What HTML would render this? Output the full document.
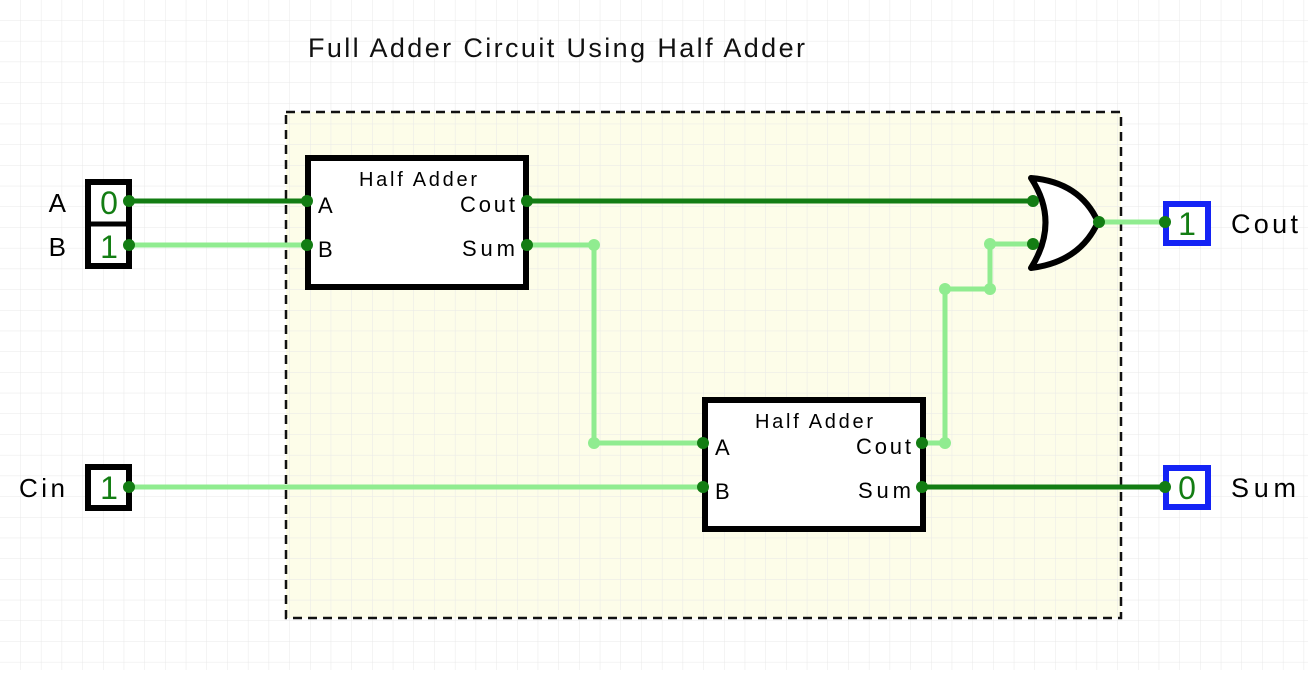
<!DOCTYPE html>
<html><head><style>
body{margin:0;width:1308px;height:670px;overflow:hidden;background:#fff;font-family:"Liberation Sans",sans-serif}
</style></head><body>
<svg width="1308" height="670" xmlns="http://www.w3.org/2000/svg">
<defs>
<pattern id="g" width="20.7" height="20.7" patternUnits="userSpaceOnUse">
<path d="M20.7 0V20.7H0" fill="none" stroke="#e8e8e8" stroke-width="1"/>
</pattern>
</defs>
<rect x="286" y="112" width="835" height="506" fill="#fdfde9"/>
<rect width="1308" height="670" fill="url(#g)"/>
<rect x="286" y="112" width="835" height="506" fill="none" stroke="#111" stroke-width="2.5" stroke-dasharray="9,6"/>
<text x="308" y="57" font-size="27" fill="#111" textLength="497">Full Adder Circuit Using Half Adder</text>

<g stroke-width="5" fill="none" stroke-linejoin="round">
<path d="M128 201H307" stroke="#137d13"/>
<path d="M128 245H307" stroke="#90ec90"/>
<path d="M527 245H594V443H703" stroke="#90ec90"/>
<path d="M128 487H703" stroke="#90ec90"/>
<path d="M921 443H945V289H990V244H1032" stroke="#90ec90"/>
<path d="M527 201H1032" stroke="#137d13"/>
<path d="M1098 222H1165" stroke="#90ec90"/>
<path d="M921 487H1165" stroke="#137d13"/>
</g>

<rect x="308" y="158" width="218" height="129" fill="#fff" stroke="#000" stroke-width="6"/>
<text x="359" y="186" font-size="20" textLength="118">Half Adder</text>
<text x="318" y="213" font-size="22">A</text>
<text x="318" y="257" font-size="22">B</text>
<text x="460" y="212" font-size="22" textLength="55">Cout</text>
<text x="462" y="256" font-size="22" textLength="53">Sum</text>

<rect x="705" y="400" width="218" height="129" fill="#fff" stroke="#000" stroke-width="6"/>
<text x="755" y="428" font-size="20" textLength="118">Half Adder</text>
<text x="715" y="455" font-size="22">A</text>
<text x="715" y="499" font-size="22">B</text>
<text x="856" y="454" font-size="22" textLength="55">Cout</text>
<text x="858" y="498" font-size="22" textLength="53">Sum</text>

<path d="M1031 178Q1060 222 1031 268Q1080 262 1098 222Q1080 182 1031 178Z" fill="#fff" stroke="#000" stroke-width="6" stroke-linejoin="round"/>

<rect x="88" y="182" width="41" height="84" fill="#fff" stroke="#000" stroke-width="6"/>
<path d="M87 224H130" stroke="#000" stroke-width="5"/>
<text x="109" y="214" font-size="32" fill="#137d13" text-anchor="middle">0</text>
<text x="109" y="258" font-size="32" fill="#137d13" text-anchor="middle">1</text>
<text x="66" y="212" font-size="26" text-anchor="end">A</text>
<text x="66" y="256" font-size="26" text-anchor="end">B</text>

<rect x="88" y="467" width="41" height="41" fill="#fff" stroke="#000" stroke-width="6"/>
<text x="109" y="499" font-size="32" fill="#137d13" text-anchor="middle">1</text>
<text x="19" y="497" font-size="26" textLength="46">Cin</text>

<rect x="1166" y="204" width="42" height="39" fill="#fff" stroke="#1423f5" stroke-width="6"/>
<text x="1187" y="235" font-size="32" fill="#137d13" text-anchor="middle">1</text>
<text x="1231" y="233" font-size="27" textLength="67">Cout</text>
<rect x="1166" y="468" width="42" height="39" fill="#fff" stroke="#1423f5" stroke-width="6"/>
<text x="1187" y="499" font-size="32" fill="#137d13" text-anchor="middle">0</text>
<text x="1231" y="497" font-size="27" textLength="65">Sum</text>

<g fill="#137d13">
<circle cx="129" cy="201" r="6"/><circle cx="129" cy="245" r="6"/><circle cx="129" cy="487" r="6"/>
<circle cx="307" cy="201" r="6"/><circle cx="307" cy="245" r="6"/>
<circle cx="527" cy="201" r="6"/><circle cx="527" cy="245" r="6"/>
<circle cx="703" cy="443" r="6"/><circle cx="703" cy="487" r="6"/>
<circle cx="922" cy="443" r="6"/><circle cx="922" cy="487" r="6"/>
<circle cx="1033" cy="201" r="6"/><circle cx="1033" cy="244" r="6"/>
<circle cx="1099" cy="222" r="6"/>
<circle cx="1165" cy="222" r="6"/><circle cx="1165" cy="487" r="6"/>
</g>
<g fill="#90ec90">
<circle cx="594" cy="245" r="6"/><circle cx="594" cy="443" r="6"/>
<circle cx="945" cy="443" r="6"/><circle cx="945" cy="289" r="6"/>
<circle cx="990" cy="289" r="6"/><circle cx="990" cy="244" r="6"/>
</g>
</svg>
</body></html>
